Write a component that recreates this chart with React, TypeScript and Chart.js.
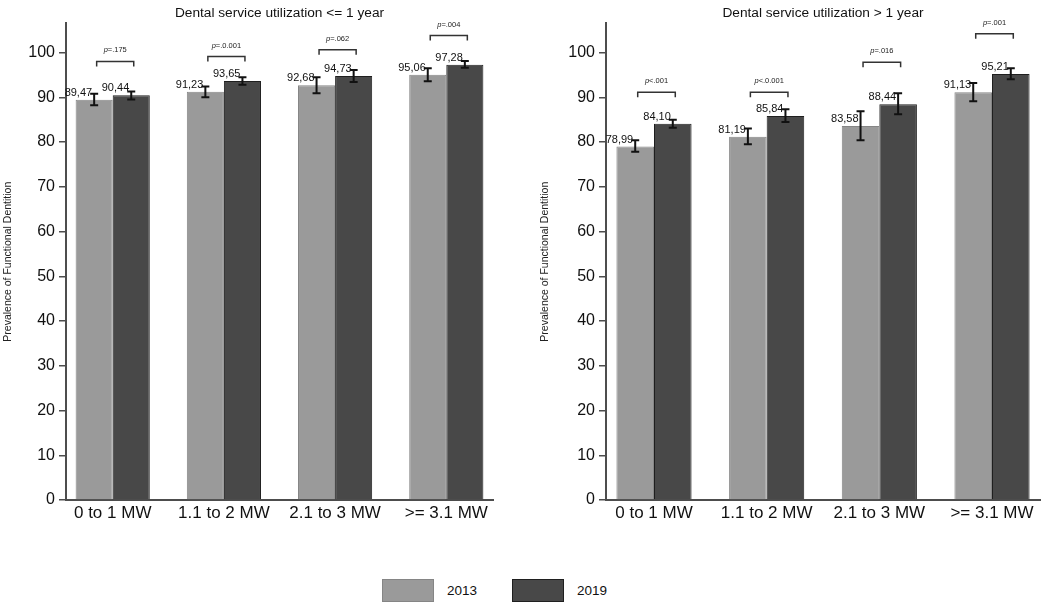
import React, { useEffect, useRef } from 'react';
import { Chart, registerables } from 'chart.js';

Chart.register(...registerables);

const FONT = '"Liberation Sans", Arial, Helvetica, sans-serif';
Chart.defaults.font.family = FONT;

const categories = ['0 to 1 MW', '1.1 to 2 MW', '2.1 to 3 MW', '>= 3.1 MW'];
const seriesLabels = ['2013', '2019'];
const yTicks = [0, 10, 20, 30, 40, 50, 60, 70, 80, 90, 100];
const yAxisTitle = 'Prevalence of Functional Dentition';

// left panel: utilization <= 1 year
const leftTitle = 'Dental service utilization <= 1 year';
const left2013 = [89.47, 91.23, 92.68, 95.06];
const left2013Lo = [88.2, 90.0, 90.9, 93.6];
const left2013Hi = [90.8, 92.4, 94.5, 96.5];
const left2019 = [90.44, 93.65, 94.73, 97.28];
const left2019Lo = [89.5, 92.8, 93.4, 96.6];
const left2019Hi = [91.3, 94.5, 96.1, 98.1];
const leftPValues = ['p=.175', 'p=.0.001', 'p=.062', 'p=.004'];
const leftBracketAt = [98.0, 99.1, 100.6, 103.8];

// right panel: utilization > 1 year
const rightTitle = 'Dental service utilization > 1 year';
const right2013 = [78.99, 81.19, 83.58, 91.13];
const right2013Lo = [77.8, 79.5, 80.4, 89.1];
const right2013Hi = [80.4, 83.0, 86.9, 93.2];
const right2019 = [84.1, 85.84, 88.44, 95.21];
const right2019Lo = [83.2, 84.5, 86.2, 94.0];
const right2019Hi = [85.0, 87.3, 90.9, 96.5];
const rightPValues = ['p<.001', 'p<.0.001', 'p=.016', 'p=.001'];
const rightBracketAt = [91.1, 91.1, 97.8, 104.2];

const fills = ['#9a9a9a', '#484848'];
const borders = ['#858585', '#1f1f1f'];
const AXIS = '#4d4d4d';

interface PanelProps {
  title: string;
  values: number[][];
  lows: number[][];
  highs: number[][];
  pValues: string[];
  bracketAt: number[];
  left: number;
  padLeft: number;
  padRight: number;
  axisWidth: number;
  xMin: number;
  xMax: number;
}

const fmt = (v: number) => v.toFixed(2).replace('.', ',');

function Panel(props: PanelProps) {
  const canvasRef = useRef<HTMLCanvasElement>(null);

  useEffect(() => {
    if (!canvasRef.current) return;
    const { values, lows, highs, pValues, bracketAt } = props;

    const overlay = {
      id: 'overlay',
      afterDatasetsDraw(chart: Chart) {
        const ctx = chart.ctx;
        const ys = chart.scales.y;
        const metas = [chart.getDatasetMeta(0), chart.getDatasetMeta(1)];
        ctx.save();

        metas.forEach((meta, d) => {
          meta.data.forEach((bar: any, i: number) => {
            const x = bar.x;
            const y1 = ys.getPixelForValue(lows[d][i]);
            const y2 = ys.getPixelForValue(highs[d][i]);
            ctx.strokeStyle = '#111';
            ctx.lineWidth = 2;
            ctx.beginPath();
            ctx.moveTo(x, y1);
            ctx.lineTo(x, y2);
            ctx.moveTo(x - 4, y1);
            ctx.lineTo(x + 4, y1);
            ctx.moveTo(x - 4, y2);
            ctx.lineTo(x + 4, y2);
            ctx.stroke();

            ctx.font = `11px ${FONT}`;
            ctx.fillStyle = '#111';
            ctx.textAlign = 'right';
            ctx.textBaseline = 'alphabetic';
            ctx.fillText(fmt(values[d][i]), x - 2, bar.y - 4);
          });
        });

        categories.forEach((_, i) => {
          const x1 = (metas[0].data[i] as any).x + 2.5;
          const x2 = (metas[1].data[i] as any).x + 2.5;
          const yb = ys.getPixelForValue(bracketAt[i]);
          ctx.strokeStyle = '#333';
          ctx.lineWidth = 1.5;
          ctx.beginPath();
          ctx.moveTo(x1, yb + 5);
          ctx.lineTo(x1, yb);
          ctx.lineTo(x2, yb);
          ctx.lineTo(x2, yb + 5);
          ctx.stroke();

          const label = pValues[i];
          const italic = `italic 7.5px ${FONT}`;
          const normal = `7.5px ${FONT}`;
          ctx.font = italic;
          const wp = ctx.measureText(label[0]).width;
          ctx.font = normal;
          const wr = ctx.measureText(label.slice(1)).width;
          const sx = (x1 + x2) / 2 - (wp + wr) / 2;
          ctx.fillStyle = '#222';
          ctx.textAlign = 'left';
          ctx.font = italic;
          ctx.fillText(label[0], sx, yb - 9);
          ctx.font = normal;
          ctx.fillText(label.slice(1), sx + wp, yb - 9);
        });

        ctx.restore();
      },
    };

    const chart = new Chart(canvasRef.current, {
      type: 'bar',
      data: {
        datasets: seriesLabels.map((label, d) => ({
          label,
          data: categories.map((_, i) => ({ x: i, y: values[d][i] })),
          backgroundColor: fills[d],
          borderColor: borders[d],
          borderWidth: 1,
          categoryPercentage: 0.667,
          barPercentage: 1,
        })),
      },
      options: {
        animation: false,
        responsive: true,
        maintainAspectRatio: false,
        layout: { padding: { left: props.padLeft, right: props.padRight, top: 0, bottom: 0 } },
        plugins: {
          legend: { display: false },
          tooltip: { enabled: false },
          title: {
            display: true,
            text: props.title,
            fullSize: false,
            color: '#111',
            font: { size: 13.7, weight: 'normal' },
            padding: { top: 5, bottom: 2 },
          },
        },
        scales: {
          x: {
            type: 'linear',
            offset: false,
            bounds: 'data',
            min: props.xMin,
            max: props.xMax,
            grid: { display: false, drawTicks: false, offset: false },
            border: { display: true, color: AXIS, width: 2 },
            afterBuildTicks: (scale: any) => {
              scale.ticks = categories.map((_, i) => ({ value: i }));
              scale.min = props.xMin;
              scale.max = props.xMax;
            },
            afterFit: (scale: any) => {
              scale.height = 40;
            },
            ticks: {
              autoSkip: false,
              maxRotation: 0,
              padding: 3,
              color: '#111',
              font: { size: 17 },
              callback: (v: any) => categories[v as number] ?? '',
            },
          },
          y: {
            min: 0,
            max: 106.5,
            grid: { display: true, drawOnChartArea: false, drawTicks: true, tickLength: 7, color: AXIS, lineWidth: 1.5 },
            border: { display: true, color: AXIS, width: 2 },
            afterBuildTicks: (scale: any) => {
              scale.ticks = yTicks.map((v) => ({ value: v }));
            },
            afterFit: (scale: any) => {
              scale.width = props.axisWidth;
            },
            ticks: { padding: 4, color: '#111', font: { size: 16 } },
            title: {
              display: true,
              text: yAxisTitle,
              color: '#222',
              font: { size: 10.5 },
              padding: { top: 2, bottom: 0 },
            },
          },
        },
      },
      plugins: [overlay],
    });

    return () => {
      chart.destroy();
    };
  }, [props]);

  return (
    <div style={{ position: 'absolute', top: 0, left: props.left, width: 526, height: 540 }}>
      <canvas ref={canvasRef} />
    </div>
  );
}

const leftProps: PanelProps = {
  title: leftTitle,
  values: [left2013, left2019],
  lows: [left2013Lo, left2019Lo],
  highs: [left2013Hi, left2019Hi],
  pValues: leftPValues,
  bracketAt: leftBracketAt,
  left: 0,
  padLeft: 0,
  padRight: 33,
  axisWidth: 66,
  xMin: -0.42,
  xMax: 3.42,
};

const rightProps: PanelProps = {
  title: rightTitle,
  values: [right2013, right2019],
  lows: [right2013Lo, right2019Lo],
  highs: [right2013Hi, right2019Hi],
  pValues: rightPValues,
  bracketAt: rightBracketAt,
  left: 526,
  padLeft: 11,
  padRight: 12,
  axisWidth: 69,
  xMin: -0.426,
  xMax: 3.426,
};

export default function App() {
  return (
    <div
      style={{
        position: 'fixed',
        top: 0,
        left: 0,
        width: 1052,
        height: 609,
        background: '#fff',
        fontFamily: FONT,
        overflow: 'hidden',
      }}
    >
      <Panel {...leftProps} />
      <Panel {...rightProps} />
      <div style={{ position: 'absolute', top: 579, left: 382, display: 'flex', alignItems: 'center' }}>
        {seriesLabels.map((s, d) => (
          <div key={s} style={{ display: 'flex', alignItems: 'center', marginRight: 35 }}>
            <div
              style={{
                width: 52,
                height: 23,
                boxSizing: 'border-box',
                background: fills[d],
                border: `1px solid ${borders[d]}`,
              }}
            />
            <span style={{ marginLeft: 13, fontSize: 13.5, color: '#111' }}>{s}</span>
          </div>
        ))}
      </div>
    </div>
  );
}
